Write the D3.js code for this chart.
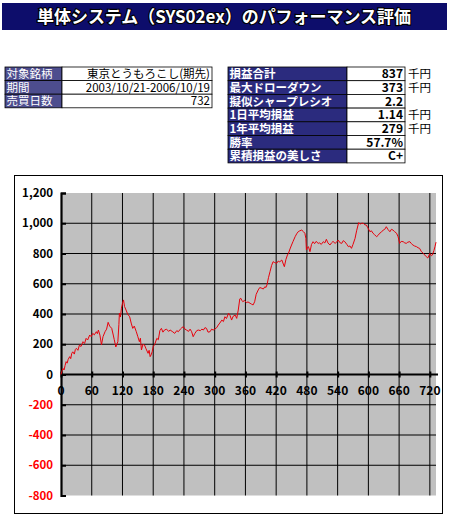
<!DOCTYPE html>
<html>
<head>
<meta charset="utf-8">
<script src="https://cdn.jsdelivr.net/npm/d3@7"></script>
<style>
  body { margin: 0; background: #fff; }
  svg text { font-family: "Noto Sans CJK JP", "Liberation Sans", sans-serif; }
</style>
</head>
<body>
<div id="chart"></div>
<script>
// header tables
const infoLabels = ["対象銘柄", "期間", "売買日数"];
const infoValues = ["東京とうもろこし(期先)", "2003/10/21-2006/10/19", "732"];

const statLabels = ["損益合計", "最大ドローダウン", "擬似シャープレシオ", "1日平均損益", "1年平均損益", "勝率", "累積損益の美しさ"];
const statValues = ["837", "373", "2.2", "1.14", "279", "57.7%", "C+"];
const statUnits = ["千円", "千円", "", "千円", "千円", "", ""];

// cumulative profit (千円) by trading day
const days = [0,2,4,6,8,10,12,14,17,19,21,23,26,28,30,33,36,39,43,46,49,52,56,59,62,65,69,71,73,76,79,82,86,89,92,95,99,102,104,107,109,111,113,114,116,118,120,122,124,127,130,134,137,140,143,147,150,153,155,157,160,163,166,170,172,174,176,178,180,183,187,190,193,196,199,202,206,210,213,217,222,226,229,233,236,239,242,245,249,252,255,258,261,265,268,272,275,278,281,284,287,291,294,297,300,304,307,310,314,317,320,323,327,330,333,336,340,343,346,349,351,353,355,358,362,365,369,372,375,378,381,385,388,392,395,398,400,402,405,408,411,414,417,421,424,427,431,434,436,439,442,444,447,450,453,457,460,463,466,470,473,476,478,479,481,483,486,489,492,495,498,502,505,508,512,515,518,521,525,528,531,535,538,541,545,548,551,554,558,561,564,567,570,574,577,581,584,587,590,593,596,599,603,606,609,612,616,619,622,625,629,632,635,638,642,645,648,651,655,658,661,664,668,671,674,677,681,684,687,690,694,697,700,703,707,710,713,716,720,723,725,728,730,732];
const profit = [0,25,40,30,60,85,75,100,118,105,140,150,135,165,173,160,195,185,217,205,239,228,261,250,272,262,283,270,294,260,196,250,283,300,345,320,305,261,230,182,200,217,330,405,380,438,470,493,450,426,400,382,340,305,320,283,250,217,240,162,200,195,170,140,160,118,130,151,184,200,239,230,290,305,280,294,300,285,294,285,272,290,283,300,310,316,300,294,285,300,283,250,270,290,294,290,300,294,310,305,280,283,300,294,300,310,327,340,360,350,382,370,405,390,360,385,393,371,426,500,504,490,481,490,475,480,471,465,460,481,530,559,575,570,565,581,575,592,640,680,720,746,740,735,750,745,757,730,713,760,790,801,830,856,880,911,930,944,950,955,945,934,900,823,840,845,812,860,878,865,880,867,870,860,878,870,894,870,856,870,880,867,875,889,870,867,885,878,860,845,850,834,860,900,950,1004,995,1000,1000,990,988,970,944,950,934,925,911,920,934,940,955,960,977,960,944,960,955,945,934,911,867,880,878,870,867,875,878,865,856,850,845,838,834,815,801,790,779,770,801,785,790,820,845,875];

const yTicks = [-800, -600, -400, -200, 0, 200, 400, 600, 800, 1000, 1200];
const xTicks = [0, 60, 120, 180, 240, 300, 360, 420, 480, 540, 600, 660, 720];

const W = 450, H = 517;
const svg = d3.select("#chart").append("svg")
    .attr("width", W).attr("height", H);

// title bar
svg.append("rect").attr("x", 2).attr("y", 3).attr("width", 445).attr("height", 27).attr("fill", "#0d0d6b");
svg.append("text")
    .attr("x", 224).attr("y", 23)
    .attr("text-anchor", "middle")
    .attr("font-size", 17.5).attr("font-weight", "bold")
    .attr("textLength", 374).attr("lengthAdjust", "spacingAndGlyphs")
    .attr("fill", "#fff").attr("stroke", "#000").attr("stroke-width", 2.2)
    .attr("paint-order", "stroke")
    .text("単体システム（SYS02ex）のパフォーマンス評価");

// left info table
const rowH1 = 13.6;
const info = svg.append("g").attr("transform", "translate(5,67)");
infoLabels.forEach((lab, i) => {
    const y = i * rowH1;
    info.append("rect").attr("x", 0).attr("y", y).attr("width", 57).attr("height", rowH1)
        .attr("fill", "#4d4d8e").attr("stroke", "#000").attr("stroke-width", 0.8);
    info.append("rect").attr("x", 57).attr("y", y).attr("width", 150).attr("height", rowH1)
        .attr("fill", "#fff").attr("stroke", "#000").attr("stroke-width", 0.8);
    info.append("text").attr("x", 1.5).attr("y", y + 11)
        .attr("font-size", 11.5).attr("fill", "#fff").text(lab);
    info.append("text").attr("x", 205).attr("y", y + 11)
        .attr("text-anchor", "end")
        .attr("font-size", 11.5)
        .attr("font-family", i === 0 ? null : "Liberation Sans")
        .attr("textLength", i === 0 ? 123 : null)
        .attr("lengthAdjust", "spacingAndGlyphs")
        .attr("fill", "#000").text(infoValues[i]);
});

// right stats table
const rowH2 = 13.7;
const stats = svg.append("g").attr("transform", "translate(228,67)");
statLabels.forEach((lab, i) => {
    const y = i * rowH2;
    stats.append("rect").attr("x", 0).attr("y", y).attr("width", 119).attr("height", rowH2)
        .attr("fill", "#2b2b7e").attr("stroke", "#000").attr("stroke-width", 0.8);
    stats.append("rect").attr("x", 119).attr("y", y).attr("width", 58).attr("height", rowH2)
        .attr("fill", "#fff").attr("stroke", "#000").attr("stroke-width", 0.8);
    stats.append("text").attr("x", 1.5).attr("y", y + 11.2)
        .attr("font-size", 11.5).attr("font-weight", "bold").attr("fill", "#fff").text(lab);
    stats.append("text").attr("x", 175).attr("y", y + 11.2)
        .attr("text-anchor", "end").attr("font-size", 12).attr("font-weight", "bold")
        .attr("font-family", "Liberation Sans").attr("fill", "#000").text(statValues[i]);
    if (statUnits[i]) {
        stats.append("text").attr("x", 180).attr("y", y + 11.2)
            .attr("font-size", 11.5).attr("fill", "#000").text(statUnits[i]);
    }
});

// chart frame
svg.append("rect").attr("x", 14.5).attr("y", 175.5).attr("width", 428).attr("height", 338)
    .attr("fill", "#fff").attr("stroke", "#000").attr("stroke-width", 1);

const x = d3.scaleLinear().domain([0, 732]).range([61, 436]);
const y = d3.scaleLinear().domain([-800, 1200]).range([495.5, 193]);

// plot area
svg.append("rect")
    .attr("x", x(0)).attr("y", y(1200))
    .attr("width", x(732) - x(0)).attr("height", y(-800) - y(1200))
    .attr("fill", "#c0c0c0");

// grid
svg.append("g")
    .selectAll("line")
    .data(yTicks.filter(d => d !== 0 && d !== 1200 && d !== -800))
    .join("line")
    .attr("x1", x(0)).attr("x2", x(732))
    .attr("y1", d => y(d)).attr("y2", d => y(d))
    .attr("stroke", "#000").attr("stroke-width", 1);
svg.append("g")
    .selectAll("line")
    .data(xTicks.filter(d => d !== 0))
    .join("line")
    .attr("x1", d => x(d)).attr("x2", d => x(d))
    .attr("y1", y(1200)).attr("y2", y(-800))
    .attr("stroke", "#000").attr("stroke-width", 1);

// y axis
const yAxis = svg.append("g")
    .attr("transform", `translate(${x(0)},0)`)
    .call(d3.axisRight(y).tickValues(yTicks).tickSize(5).tickFormat(""));
yAxis.select(".domain").attr("stroke-width", 2.2);
yAxis.selectAll(".tick line").attr("stroke-width", 2);
svg.append("g")
    .selectAll("text")
    .data(yTicks)
    .join("text")
    .attr("x", 53).attr("y", d => y(d) + 4)
    .attr("text-anchor", "end")
    .attr("font-family", "Liberation Sans")
    .attr("font-size", 11.5).attr("font-weight", "bold")
    .attr("fill", d => d < 0 ? "#ff0000" : "#000")
    .text(d => d3.format(",")(d).replace("−", "-"));

// x axis on zero line
const xAxis = svg.append("g")
    .attr("transform", `translate(0,${y(0)})`)
    .call(d3.axisBottom(x).tickValues(xTicks).tickSize(3).tickFormat(""));
xAxis.select(".domain").attr("stroke-width", 2.2).attr("d", `M${x(0)},0H${x(732) + 2}`);
xAxis.selectAll(".tick line").attr("y1", -3).attr("stroke-width", 2);
svg.append("g")
    .selectAll("text")
    .data(xTicks)
    .join("text")
    .attr("x", d => x(d)).attr("y", y(0) + 20)
    .attr("text-anchor", "middle")
    .attr("font-family", "Liberation Sans")
    .attr("font-size", 12).attr("font-weight", "bold")
    .attr("fill", "#000")
    .text(d => d);

// equity line
const series = days.map((d, i) => ({ day: d, value: profit[i] }));
svg.append("path")
    .datum(series)
    .attr("fill", "none")
    .attr("stroke", "#e8000b")
    .attr("stroke-width", 1)
    .attr("d", d3.line().x(d => x(d.day)).y(d => y(d.value)));
</script>
</body>
</html>
